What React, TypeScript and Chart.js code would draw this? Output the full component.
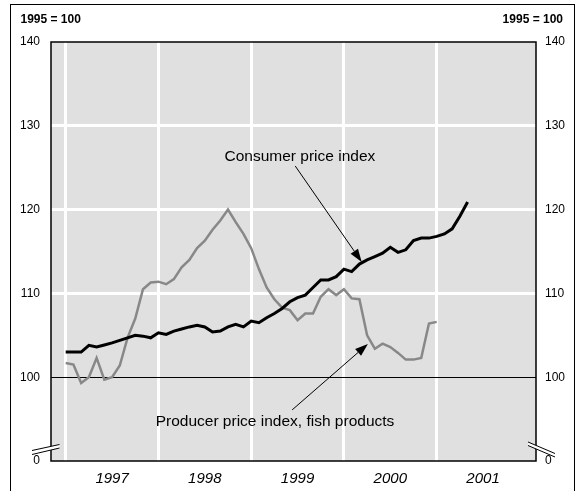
import React, { useEffect, useRef } from 'react';
import { Chart, registerables } from 'chart.js';

Chart.register(...registerables);

// ---- data ----
const years = ['1997', '1998', '1999', '2000', '2001'];
// monthly values from January 1997
const cpi = [
  103.0, 103.0, 103.0, 103.8, 103.6, 103.85, 104.1, 104.4, 104.7, 105.0, 104.9, 104.7,
  105.3, 105.1, 105.5, 105.75, 106.0, 106.2, 106.0, 105.4, 105.5, 106.0, 106.3, 106.0,
  106.7, 106.5, 107.1, 107.6, 108.2, 109.0, 109.5, 109.8, 110.7, 111.6, 111.6, 112.0,
  112.9, 112.6, 113.5, 114.0, 114.4, 114.8, 115.5, 114.9, 115.2, 116.3, 116.6, 116.6,
  116.8, 117.1, 117.7, 119.2, 120.9,
];
const ppiFish = [
  101.7, 101.5, 99.3, 100.0, 102.3, 99.7, 100.0, 101.4, 104.7, 107.0, 110.5, 111.3,
  111.4, 111.1, 111.7, 113.1, 114.0, 115.4, 116.3, 117.6, 118.7, 120.0, 118.5, 117.1,
  115.4, 112.9, 110.7, 109.3, 108.3, 108.0, 106.8, 107.6, 107.6, 109.6, 110.5, 109.8,
  110.5, 109.4, 109.3, 105.0, 103.4, 104.0, 103.6, 102.9, 102.1, 102.1, 102.3, 106.4,
  106.6,
];
const yTickValues = [90, 100, 110, 120, 130, 140];
const yTickLabels = ['0', '100', '110', '120', '130', '140'];
const unitLabel = '1995 = 100';
const cpiLabel = 'Consumer price index';
const ppiLabel = 'Producer price index, fish products';

const FONT = '"Liberation Sans", Arial, Helvetica, sans-serif';

export default function App() {
  const ref = useRef<HTMLCanvasElement>(null);

  useEffect(() => {
    document.body.style.margin = '0';
    const canvas = ref.current;
    if (!canvas) return;

    const arrow = (ctx: CanvasRenderingContext2D, x1: number, y1: number, x2: number, y2: number) => {
      const ang = Math.atan2(y2 - y1, x2 - x1);
      const L = 13;
      const W = 4.5;
      const bx = x2 - L * Math.cos(ang);
      const by = y2 - L * Math.sin(ang);
      ctx.beginPath();
      ctx.moveTo(x1, y1);
      ctx.lineTo(bx, by);
      ctx.strokeStyle = '#000';
      ctx.lineWidth = 1;
      ctx.stroke();
      ctx.beginPath();
      ctx.moveTo(x2, y2);
      ctx.lineTo(bx + W * Math.sin(ang), by - W * Math.cos(ang));
      ctx.lineTo(bx - W * Math.sin(ang), by + W * Math.cos(ang));
      ctx.closePath();
      ctx.fillStyle = '#000';
      ctx.fill();
    };

    const deco = {
      id: 'deco',
      beforeDraw(chart: any) {
        const { ctx, chartArea: a } = chart;
        ctx.save();
        ctx.fillStyle = '#fff';
        ctx.fillRect(0, 0, chart.width, chart.height);
        ctx.fillStyle = '#e0e0e0';
        ctx.fillRect(a.left, a.top, a.right - a.left, a.bottom - a.top);
        ctx.restore();
      },
      afterDraw(chart: any) {
        const { ctx, chartArea: a } = chart;
        const xs = chart.scales.x;
        const ys = chart.scales.y;
        const px = (v: number) => xs.getPixelForValue(v);
        const py = (v: number) => ys.getPixelForValue(v);
        ctx.save();
        // outer frame
        ctx.strokeStyle = '#000';
        ctx.lineWidth = 1;
        ctx.strokeRect(10.5, 4.5, 564, 520);
        // plot frame
        ctx.lineWidth = 1.5;
        ctx.strokeRect(a.left, a.top, a.right - a.left, a.bottom - a.top);
        // unit labels
        ctx.fillStyle = '#000';
        ctx.font = `bold 12px ${FONT}`;
        ctx.textBaseline = 'middle';
        ctx.textAlign = 'left';
        ctx.fillText(unitLabel, 20.5, 20);
        ctx.textAlign = 'right';
        ctx.fillText(unitLabel, 563, 20);
        // axis break marks
        const brk = (p: number[][]) => {
          ctx.beginPath();
          ctx.moveTo(p[0][0], p[0][1]);
          ctx.lineTo(p[1][0], p[1][1]);
          ctx.lineTo(p[3][0], p[3][1]);
          ctx.lineTo(p[2][0], p[2][1]);
          ctx.closePath();
          ctx.fillStyle = '#fff';
          ctx.fill();
          ctx.beginPath();
          ctx.moveTo(p[0][0], p[0][1]);
          ctx.lineTo(p[1][0], p[1][1]);
          ctx.moveTo(p[2][0], p[2][1]);
          ctx.lineTo(p[3][0], p[3][1]);
          ctx.strokeStyle = '#000';
          ctx.lineWidth = 1;
          ctx.stroke();
        };
        brk([[32, 450.5], [59.5, 444.5], [32, 454.5], [59.5, 448]]);
        brk([[528, 442], [555, 453.5], [528, 445.5], [555, 457]]);
        // annotations
        ctx.fillStyle = '#000';
        ctx.font = `15.5px ${FONT}`;
        ctx.textAlign = 'center';
        ctx.textBaseline = 'middle';
        ctx.fillText(cpiLabel, px(30.3), py(126.35));
        ctx.fillText(ppiLabel, px(27.08), py(94.68));
        arrow(ctx, px(29.7), py(125.2), px(38.3), py(113.76));
        arrow(ctx, px(29.3), py(96.1), px(39.1), py(103.97));
        ctx.restore();
      },
    };

    const chart = new Chart(canvas, {
      type: 'line',
      data: {
        datasets: [
          {
            label: cpiLabel,
            data: cpi.map((v, i) => ({ x: i, y: v })),
            borderColor: '#000',
            borderWidth: 3,
            pointRadius: 0,
            tension: 0,
            yAxisID: 'y',
          },
          {
            label: ppiLabel,
            data: ppiFish.map((v, i) => ({ x: i, y: v })),
            borderColor: '#888888',
            borderWidth: 2.5,
            pointRadius: 0,
            tension: 0,
            yAxisID: 'y',
          },
        ],
      },
      options: {
        responsive: false,
        animation: false,
        devicePixelRatio: 1,
        layout: { padding: { top: 42, left: 0, right: 0, bottom: 0 } },
        plugins: { legend: { display: false }, tooltip: { enabled: false }, title: { display: false } },
        scales: {
          x: {
            type: 'linear',
            position: 'bottom',
            min: -1.9,
            max: 60.85,
            afterBuildTicks: (s: any) => {
              s.ticks = [0, 6, 12, 18, 24, 30, 36, 42, 48, 54].map((v) => ({ value: v }));
            },
            afterFit: (s: any) => {
              s.height = 30;
            },
            ticks: {
              autoSkip: false,
              maxRotation: 0,
              padding: 9,
              color: '#000',
              font: { family: FONT, size: 15, style: 'italic' },
              callback: (v: any) => (Number(v) % 12 === 6 ? years[(Number(v) - 6) / 12] : ''),
            },
            grid: {
              drawTicks: false,
              lineWidth: 3,
              color: (c: any) => (c.tick && c.tick.value % 12 === 0 ? '#ffffff' : 'rgba(0,0,0,0)'),
            },
            border: { display: false },
          },
          y: {
            type: 'linear',
            position: 'left',
            min: 90,
            max: 140,
            afterBuildTicks: (s: any) => {
              s.ticks = yTickValues.map((v) => ({ value: v }));
            },
            afterFit: (s: any) => {
              s.width = 51;
            },
            ticks: {
              padding: 11,
              color: '#000',
              font: { family: FONT, size: 12 },
              callback: (v: any) => yTickLabels[yTickValues.indexOf(Number(v))],
            },
            grid: {
              drawTicks: false,
              lineWidth: (c: any) => (c.tick && c.tick.value === 100 ? 1 : 3),
              color: (c: any) => {
                const v = c.tick ? c.tick.value : 0;
                if (v === 100) return '#000';
                if (v === 90 || v === 140) return 'rgba(0,0,0,0)';
                return '#ffffff';
              },
            },
            border: { display: false },
          },
          y2: {
            type: 'linear',
            position: 'right',
            min: 90,
            max: 140,
            afterBuildTicks: (s: any) => {
              s.ticks = yTickValues.map((v) => ({ value: v }));
            },
            afterFit: (s: any) => {
              s.width = 40;
            },
            ticks: {
              padding: 9,
              color: '#000',
              font: { family: FONT, size: 12 },
              callback: (v: any) => yTickLabels[yTickValues.indexOf(Number(v))],
            },
            grid: { display: false, drawTicks: false },
            border: { display: false },
          },
        },
      },
      plugins: [deco],
    } as any);

    return () => chart.destroy();
  }, []);

  return <canvas ref={ref} width={576} height={491} style={{ display: 'block', width: 576, height: 491 }} />;
}
